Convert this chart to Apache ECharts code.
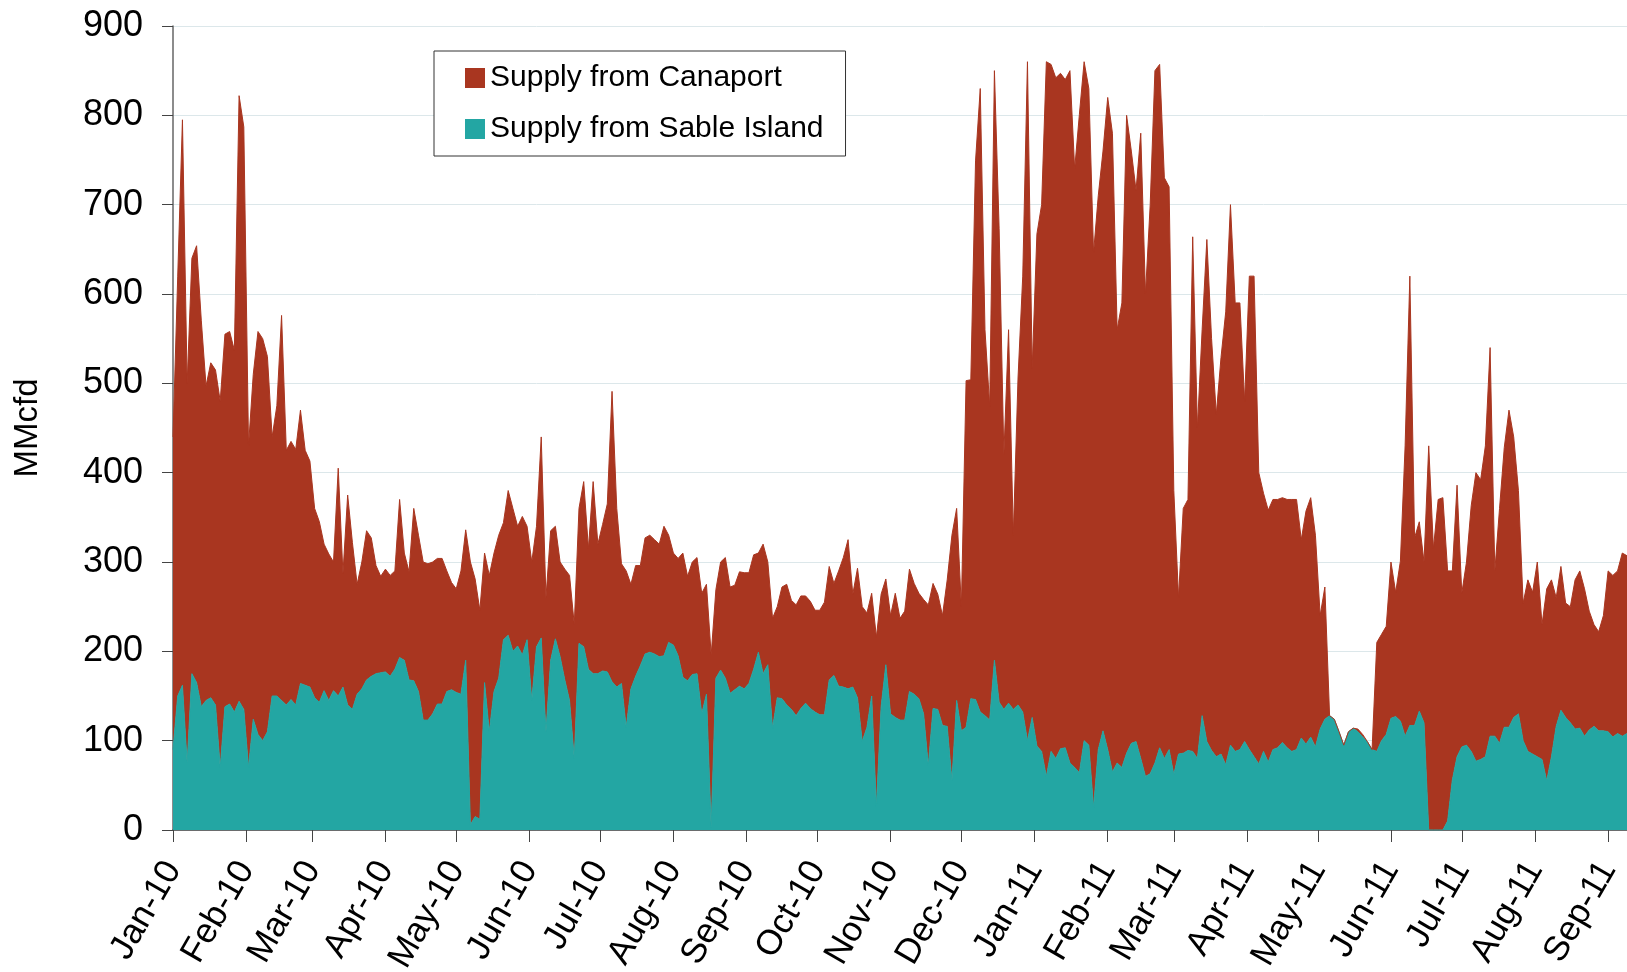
<!DOCTYPE html>
<html>
<head>
<meta charset="utf-8">
<title>Supply from Canaport / Sable Island</title>
<script src="https://cdn.jsdelivr.net/npm/echarts@6/dist/echarts.min.js"></script>
<style>
  html, body { margin: 0; padding: 0; background: #fff; }
  #container { width: 1627px; height: 972px; }
</style>
</head>
<body>
<div id="container"></div>
<script>
// one reading every second day, starting 1 Jan 2010 (MMcfd)
var firstDay = [2010, 0, 1];
var stepDays = 2;
var lastDay = [2011, 8, 9];

var monthNames = ['Jan', 'Feb', 'Mar', 'Apr', 'May', 'Jun', 'Jul', 'Aug', 'Sep', 'Oct', 'Nov', 'Dec'];

var canaport = [
    350, 470, 633, 425, 465, 489, 432, 352, 375, 375,   // Jan-10
    410, 417, 417, 405, 678, 652, 360, 386, 451, 450,
    420, 290, 325, 431, 285, 289, 286, 306, 263, 253,
    212, 202, 164, 164, 144, 255, 127, 235, 187, 123,
    142, 167, 155, 121, 108, 115, 113, 110, 177, 120,
    121, 193, 175, 177, 175, 170, 163, 163, 135, 120,
    116, 138, 146, 294, 266, 234, 145, 175, 155, 160,
    131, 162, 160, 134, 155, 127, 155, 135, 225, 150,
    145, 126, 106, 124, 140, 150, 151, 185, 135, 215,
    145, 164, 188, 325, 200, 134, 175, 117, 124, 112,
    130, 131, 128, 126, 145, 120, 103, 109, 139, 117,
    126, 130, 135, 123, 193, 99, 121, 135, 119, 117,
    128, 130, 124, 128, 111, 145, 115, 123, 102, 125,
    135, 122, 124, 126, 120, 120, 114, 117, 126, 127,
    103, 129, 145, 167, 104, 145, 151, 128, 115, 190,
    126, 96, 110, 139, 114, 122, 137, 124, 118, 128,
    180, 140, 129, 123, 164, 275, 215, 139, 388, 357,
    603, 698, 432, 351, 660, 530, 285, 418, 195, 366,
    488, 760, 391, 573, 612, 800, 769, 762, 756, 748,
    775, 670, 737, 760, 735, 621, 620, 649, 730, 715,
    485, 520, 714, 663, 617, 700, 540, 637, 775, 765,
    650, 630, 318, 175, 274, 281, 576, 370, 432, 562,
    461, 383, 444, 507, 605, 502, 500, 381, 530, 538,
    326, 289, 282, 280, 278, 274, 278, 282, 280, 222,
    261, 268, 237, 127, 148, 0, 0, 0, 0, 0,
    0, 3, 3, 0, 0, 122, 119, 121, 175, 139,
    179, 325, 503, 210, 212, 180, 430, 315, 370, 372,
    280, 234, 304, 172, 205, 275, 323, 313, 348, 435,
    185, 263, 313, 355, 314, 250, 154, 192, 181, 218,
    151, 215, 198, 144, 161, 128, 130, 167, 176, 165,
    133, 114, 111, 129, 180, 181, 182, 205, 199
];

var sableIsland = [
    90, 150, 162, 75, 175, 165, 138, 145, 148, 140,
    70, 138, 141, 132, 144, 135, 70, 124, 107, 100,
    110, 150, 150, 145, 140, 146, 140, 164, 162, 160,
    148, 143, 156, 145, 156, 150, 160, 140, 135, 152,
    158, 168, 172, 175, 176, 177, 172, 180, 193, 190,
    168, 167, 155, 123, 123, 130, 141, 141, 155, 157,
    154, 152, 190, 6, 15, 12, 165, 110, 155, 170,
    213, 218, 200, 206, 196, 213, 145, 205, 215, 110,
    190, 214, 194, 168, 145, 80, 209, 205, 180, 175,
    175, 178, 177, 166, 160, 164, 115, 158, 172, 184,
    197, 199, 197, 194, 195, 210, 207, 195, 171, 167,
    174, 175, 130, 152, 3, 170, 179, 170, 153, 157,
    161, 158, 164, 180, 199, 175, 185, 114, 148, 147,
    140, 135, 128, 136, 142, 136, 132, 129, 129, 168,
    173, 161, 160, 158, 160, 148, 99, 115, 150, 26,
    138, 185, 130, 126, 123, 123, 155, 152, 147, 130,
    72, 136, 135, 117, 116, 55, 145, 111, 115, 147,
    146, 132, 128, 123, 190, 143, 135, 142, 135, 140,
    132, 100, 126, 94, 88, 60, 88, 80, 91, 92,
    75, 70, 64, 100, 95, 25, 90, 111, 90, 65,
    75, 70, 86, 97, 99, 80, 60, 63, 75, 92,
    80, 90, 62, 85, 86, 89, 88, 80, 128, 99,
    89, 82, 85, 73, 95, 88, 90, 99, 90, 82,
    74, 88, 76, 90, 92, 98, 92, 88, 90, 103,
    96, 104, 93, 113, 124, 128, 124, 110, 95, 110,
    114, 110, 104, 99, 90, 88, 100, 107, 125, 127,
    122, 105, 117, 117, 133, 120, 0, 0, 0, 0,
    10, 56, 82, 93, 95, 88, 77, 79, 82, 105,
    105, 97, 115, 115, 126, 130, 100, 88, 85, 82,
    79, 55, 82, 116, 134, 126, 120, 113, 114, 105,
    112, 116, 111, 111, 110, 104, 108, 105, 108
];

var dom = document.getElementById('container');
var myChart = echarts.init(dom);

var dates = canaport.map(function (v, i) {
    return new Date(firstDay[0], firstDay[1], firstDay[2] + i * stepDays).getTime();
});
function pairs(values) {
    return values.map(function (v, i) { return [dates[i], v]; });
}

var option = {
    animation: false,
    backgroundColor: '#fff',
    textStyle: { fontFamily: 'Liberation Sans, Arial, sans-serif' },
    grid: {
        left: 173,
        right: 0,
        top: 26,
        bottom: 142,
        outerBoundsMode: 'none'
    },
    legend: {
        orient: 'vertical',
        left: 434,
        top: 51,
        padding: [12, 22, 12, 31],
        itemGap: 21,
        itemWidth: 20,
        itemHeight: 20,
        icon: 'rect',
        borderColor: '#333',
        borderWidth: 1,
        backgroundColor: '#fff',
        textStyle: { fontSize: 30, color: '#000', lineHeight: 30 },
        data: ['Supply from Canaport', 'Supply from Sable Island']
    },
    xAxis: {
        type: 'time',
        min: dates[0],
        max: new Date(lastDay[0], lastDay[1], lastDay[2]).getTime(),
        minInterval: 28 * 24 * 3600 * 1000,
        maxInterval: 31 * 24 * 3600 * 1000,
        axisLine: { lineStyle: { color: '#444', width: 1.5 } },
        axisTick: { show: true, length: 12, lineStyle: { color: '#444' } },
        splitLine: { show: false },
        axisLabel: {
            rotate: 60,
            margin: 34,
            fontSize: 35,
            color: '#000',
            showMaxLabel: false,
            formatter: function (value) {
                var d = new Date(value);
                return monthNames[d.getMonth()] + '-' + String(d.getFullYear()).slice(2);
            }
        }
    },
    yAxis: {
        type: 'value',
        min: 0,
        max: 900,
        interval: 100,
        name: 'MMcfd',
        nameLocation: 'middle',
        nameRotate: 90,
        nameGap: 129,
        nameTextStyle: { fontSize: 33, color: '#000' },
        axisLine: { show: true, lineStyle: { color: '#666', width: 1.5 } },
        axisTick: { show: true, length: 11, lineStyle: { color: '#444' } },
        splitLine: { lineStyle: { color: '#dce7ea', width: 1 } },
        axisLabel: { fontSize: 36, color: '#000', margin: 30 }
    },
    series: [{
        name: 'Supply from Sable Island',
        type: 'line',
        stack: 'supply',
        color: '#23a6a3',
        showSymbol: false,
        sampling: 'none',
        lineStyle: { width: 1, color: '#23a6a3' },
        areaStyle: { color: '#23a6a3', opacity: 1 },
        data: pairs(sableIsland)
    }, {
        name: 'Supply from Canaport',
        type: 'line',
        stack: 'supply',
        color: '#a93620',
        showSymbol: false,
        sampling: 'none',
        lineStyle: { width: 1, color: '#a93620' },
        areaStyle: { color: '#a93620', opacity: 1 },
        data: pairs(canaport)
    }]
};

if (option && typeof option === 'object') {
    myChart.setOption(option, true);
}
</script>
</body>
</html>
